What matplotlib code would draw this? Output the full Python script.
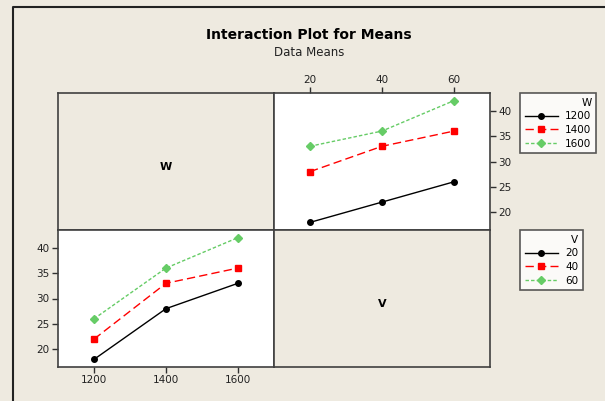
import matplotlib
matplotlib.use("Agg")
import matplotlib.pyplot as plt
from matplotlib.lines import Line2D

# data: means of response for each W / V combination
w_levels = [1200, 1400, 1600]
v_levels = [20, 40, 60]
# rows = W level, columns = V level
means_w1200 = [18, 22, 26]
means_w1400 = [28, 33, 36]
means_w1600 = [33, 36, 42]
# same table read the other way (rows = V level, columns = W level)
means_v20 = [18, 28, 33]
means_v40 = [22, 33, 36]
means_v60 = [26, 36, 42]
y_ticks = [20, 25, 30, 35, 40]

bg = "#EEEAE0"
green = "#66CC66"
styles = [
    dict(color="black", ls="-", marker="o", ms=4),
    dict(color="red", ls=(0, (6, 3)), marker="s", ms=4),
    dict(color=green, ls=(0, (2.5, 1.5)), marker="D", ms=4),
]

W, H = 605, 401
fig = plt.figure(figsize=(W / 100, H / 100), dpi=100, facecolor=bg)
plt.rcParams["font.family"] = "DejaVu Sans"


def box(x0, y0, x1, y1):
    # pixel coords (top-left origin) -> figure fraction rect
    return [x0 / W, 1 - y1 / H, (x1 - x0) / W, (y1 - y0) / H]


xs = [58, 274, 490]
ys = [93, 230, 367]
ax_tl = fig.add_axes(box(xs[0], ys[0], xs[1], ys[1]))
ax_tr = fig.add_axes(box(xs[1], ys[0], xs[2], ys[1]))
ax_bl = fig.add_axes(box(xs[0], ys[1], xs[1], ys[2]))
ax_br = fig.add_axes(box(xs[1], ys[1], xs[2], ys[2]))

for ax in (ax_tl, ax_tr, ax_bl, ax_br):
    for s in ax.spines.values():
        s.set_color("#404040")
        s.set_linewidth(1.2)
    ax.tick_params(length=4, width=1, color="#303030", labelsize=7.5,
                   labelcolor="#222222", pad=2)

# diagonal label panels
for ax, lab in ((ax_tl, "W"), (ax_br, "V")):
    ax.set_facecolor(bg)
    ax.set_xticks([])
    ax.set_yticks([])
    ax.text(0.5, 0.46, lab, transform=ax.transAxes, ha="center", va="center",
            fontsize=8, fontweight="bold")

# top right: x = V, lines = W
for vals, st in zip([means_w1200, means_w1400, means_w1600], styles):
    ax_tr.plot(v_levels, vals, lw=1, **st)
ax_tr.set_xlim(10, 70)
ax_tr.set_ylim(16.5, 43.5)
ax_tr.set_xticks(v_levels)
ax_tr.set_yticks(y_ticks)
ax_tr.xaxis.tick_top()
ax_tr.yaxis.tick_right()

# bottom left: x = W, lines = V
for vals, st in zip([means_v20, means_v40, means_v60], styles):
    ax_bl.plot(w_levels, vals, lw=1, **st)
ax_bl.set_xlim(1100, 1700)
ax_bl.set_ylim(16.5, 43.5)
ax_bl.set_xticks(w_levels)
ax_bl.set_yticks(y_ticks)

# legends
def make_legend(title, labels, top_px):
    handles = [Line2D([], [], lw=1, **st) for st in styles]
    lg = fig.legend(handles, [str(l) for l in labels], title=title,
                    loc="upper left", bbox_to_anchor=(520 / W, 1 - top_px / H),
                    frameon=True, fancybox=False, edgecolor="#303030",
                    facecolor="white", fontsize=7.5, title_fontsize=7.5,
                    handlelength=3.2, handletextpad=0.7, borderpad=0.45,
                    labelspacing=0.35, alignment="right", borderaxespad=0)
    lg.get_frame().set_linewidth(1.2)
    return lg

make_legend("W", w_levels, 93)
make_legend("V", v_levels, 230)

# titles
fig.text(309 / W, 1 - 35 / H, "Interaction Plot for Means", ha="center",
         va="center", fontsize=10, fontweight="bold")
fig.text(309 / W, 1 - 52 / H, "Data Means", ha="center", va="center",
         fontsize=8.5, color="#222222")

# outer frame lines (top and left only)
fig.add_artist(Line2D([13 / W, 13 / W, 1], [0, 1 - 7 / H, 1 - 7 / H],
                      transform=fig.transFigure, color="#222222", lw=1.5))

fig.savefig("out.png", dpi=100, facecolor=bg)
